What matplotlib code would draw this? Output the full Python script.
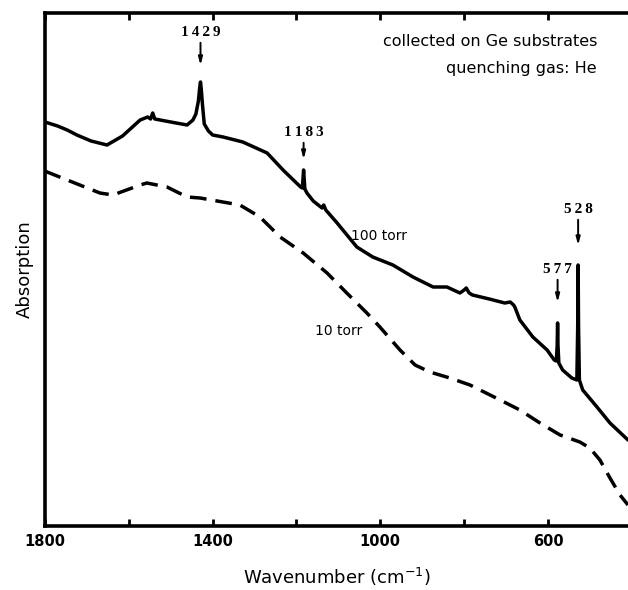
import matplotlib
matplotlib.use("Agg")
import matplotlib.pyplot as plt

# IR absorption spectra (arbitrary absorption units) vs wavenumber in cm^-1
wn_100 = [1800, 1770, 1747, 1724, 1690, 1652, 1615, 1573, 1555, 1548, 1543, 1538,
          1500, 1461, 1447, 1440, 1434, 1431, 1429, 1427, 1424, 1420, 1410, 1400,
          1375, 1328, 1270, 1232, 1200, 1190, 1186, 1183, 1180, 1175, 1160, 1139,
          1135, 1130, 1103, 1056, 1018, 970, 922, 874, 841, 810, 800, 795, 788,
          780, 740, 703, 690, 682, 679, 667, 636, 602, 585, 580, 578, 577, 576,
          574, 565, 543, 531, 529, 528, 527, 525, 517, 483, 452, 409]
ab_100 = [404, 400, 396, 391, 385, 381, 390, 406, 409, 407, 413, 407,
          404, 401, 406, 412, 425, 438, 444, 436, 420, 402, 395, 391,
          389, 384, 373, 356, 343, 339, 338, 356, 337, 333, 325, 318,
          321, 316, 303, 279, 269, 261, 249, 239, 239, 233, 236, 238, 233,
          231, 227, 223, 224, 221, 219, 206, 189, 176, 166, 165, 180, 203, 180,
          163, 156, 148, 146, 200, 261, 200, 146, 136, 119, 103, 86]

wn_10 = [1800, 1795, 1747, 1669, 1638, 1573, 1557, 1509, 1461, 1430, 1335, 1287,
         1239, 1184, 1127, 1080, 1032, 1001, 953, 917, 882, 834, 786, 714, 667,
         619, 571, 524, 500, 476, 452, 428, 409]
ab_10 = [355, 354, 346, 333, 331, 341, 343, 339, 329, 328, 321, 309,
         289, 273, 253, 233, 213, 199, 176, 161, 154, 148, 141, 126, 116,
         103, 91, 84, 78, 66, 48, 31, 21]

peaks = [1429, 1183, 577, 528]
peak_tops = [444, 356, 203, 261]

major_ticks = [1800, 1400, 1000, 600]
minor_ticks = [1600, 1200, 800]

W, H = 628, 590
fig = plt.figure(figsize=(W / 100, H / 100), dpi=100)
ax = fig.add_axes([45 / W, 1 - 526 / H, 1 - 45 / W, (526 - 13) / H])

ax.plot(wn_100, ab_100, color="black", lw=2.5, solid_joinstyle="round",
        solid_capstyle="round")
ax.plot(wn_10, ab_10, color="black", lw=2.5, linestyle=(0, (4.8, 2.6)),
        dash_capstyle="butt")

ax.set_xlim(1800, 409)
ax.set_ylim(0, 513)

for s in ["left", "bottom", "top"]:
    ax.spines[s].set_linewidth(2.6)
ax.spines["right"].set_visible(False)

ax.set_xticks(major_ticks)
ax.set_xticklabels([str(t) for t in major_ticks], fontsize=10.5,
                   fontweight="bold", family="DejaVu Sans")
ax.set_xticks(minor_ticks, minor=True)
ax.tick_params(axis="x", which="both", direction="in", length=5, width=2,
               top=True, pad=6)
ax.tick_params(axis="y", left=False, labelleft=False)

ax.set_xlabel("Wavenumber (cm$^{-1}$)", fontsize=13, labelpad=12)
ax.set_ylabel("Absorption", fontsize=13, labelpad=8)

# peak markers with arrows
label_font = dict(family="Liberation Serif", fontsize=11, fontweight="bold",
                  ha="center", va="center")
gaps = [14, 8, 18, 17]
arrow_len = [28, 22, 28, 31]
for p, top, g, L in zip(peaks, peak_tops, gaps, arrow_len):
    tip = top + g
    ax.annotate("", xy=(p, tip), xytext=(p, tip + L),
                arrowprops=dict(arrowstyle="-|>,head_length=0.45,head_width=0.12",
                                color="black", lw=1.4))
    ax.text(p, tip + L + 8, "\u2009".join(str(p)), **label_font)

ax.text(1003, 290, "100 torr", fontsize=10, ha="center", va="center")
ax.text(1100, 195, "10 torr", fontsize=10, ha="center", va="center")

ax.text(597 / W, 1 - 42 / H, "collected on Ge substrates", transform=fig.transFigure,
        ha="right", va="center", fontsize=11.5)
ax.text(597 / W, 1 - 68 / H, "quenching gas: He", transform=fig.transFigure,
        ha="right", va="center", fontsize=11.5)

fig.savefig("out.png", dpi=100)
